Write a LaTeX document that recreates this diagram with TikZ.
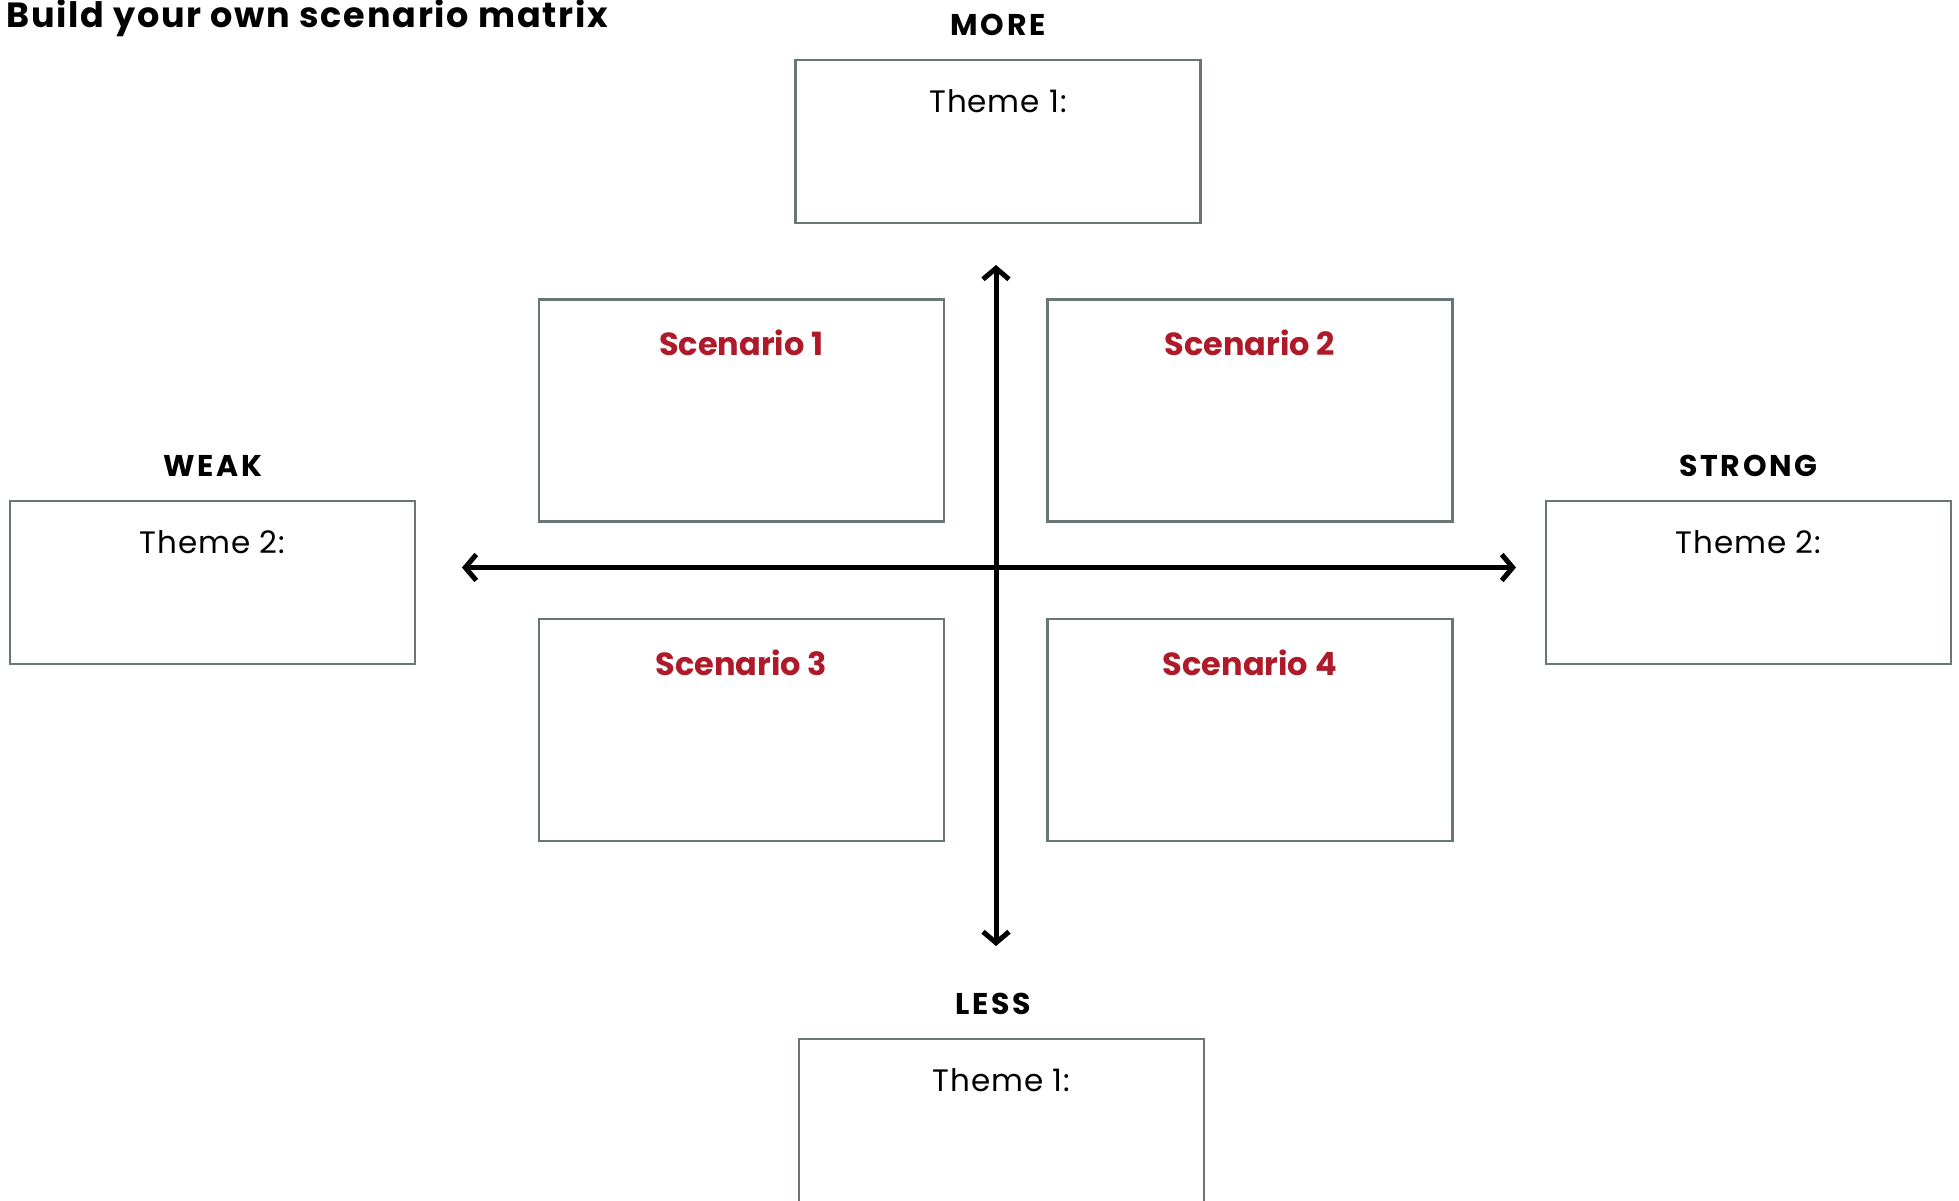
\documentclass[tikz,border=0pt]{standalone}
\usepackage{fontspec}
\setmainfont{Poppins}
\newfontfamily\headfont[LetterSpace=9]{Poppins}
\newfontfamily\titlefont[LetterSpace=5]{Poppins}
\newfontfamily\themefont[LetterSpace=3]{Poppins}
\usetikzlibrary{positioning, arrows.meta}
\definecolor{boxgray}{RGB}{104,118,118}
\definecolor{scred}{RGB}{174,26,42}

\begin{document}
\begin{tikzpicture}[x=1pt, y=1pt, node distance={50pt},
  theme/.style = {draw=boxgray, line width=2.5pt, minimum width=405pt, minimum height=163pt, inner sep=0pt},
  scen/.style = {draw=boxgray, line width=2.5pt, minimum width=405pt, minimum height=222pt, inner sep=0pt},
  head/.style = {font=\fontsize{30}{36}\headfont\bfseries, inner sep=0pt, label distance=23pt},
  txt/.style = {font=\fontsize{31}{37}\themefont, inner sep=0pt, anchor=north, yshift=-31pt},
  red/.style = {font=\fontsize{32}{38}\selectfont\bfseries, text=scred, inner sep=0pt, anchor=north, yshift=-32pt},
  axis/.style = {line width=5pt, {Straight Barb[length=11pt,width=26pt]}-{Straight Barb[length=11pt,width=26pt]}}]
\useasboundingbox (0,0) rectangle (1959,-1200);

\node[anchor=base west, font=\fontsize{35}{40}\titlefont\bfseries, inner sep=0pt] (title) at (6,-27) {Build your own scenario matrix};

% axes
\coordinate (c) at (996,-567.5);
\coordinate (up) at (996,-265);
\coordinate (down) at (996,-946);
\coordinate (lft) at (462,-567.5);
\coordinate (rgt) at (1516,-567.5);

% theme boxes
\node[theme] (more) at (998,-141.5) [label={[head]above:MORE}, label={[txt]north:{Theme 1:}}]{};
\node[theme] (less) at (1001.5,-1120.5) [label={[head, xshift=-8pt]above:LESS}, label={[txt]north:{Theme 1:}}]{};
\node[theme] (weak) at (212.5,-582.5) [label={[head]above:WEAK}, label={[txt]north:{Theme 2:}}]{};
\node[theme] (strong) at (1748.5,-582.5) [label={[head]above:STRONG}, label={[txt]north:{Theme 2:}}]{};

% scenarios
\node[scen] (s1) [above left=45pt and 51pt of c, label={[red]north:Scenario 1}]{};
\node[scen] (s2) [above right=45pt and 50pt of c, label={[red]north:Scenario 2}]{};
\node[scen] (s3) [below left=50pt and 51pt of c, label={[red]north:Scenario 3}]{};
\node[scen] (s4) [below right=50pt and 50pt of c, label={[red]north:Scenario 4}]{};

\draw[axis] (down) -- (up);
\draw[axis] (lft) -- (rgt);

\end{tikzpicture}
\end{document}
